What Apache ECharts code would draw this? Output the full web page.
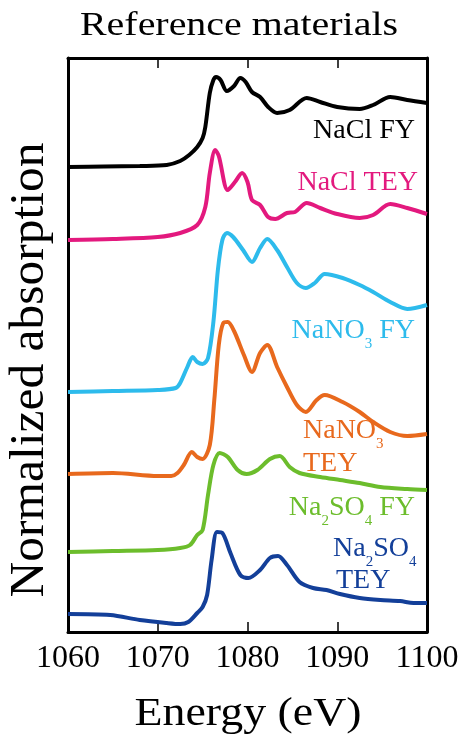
<!DOCTYPE html>
<html><head><meta charset="utf-8">
<script src="https://cdn.jsdelivr.net/npm/echarts@6/dist/echarts.min.js"></script>
<style>html,body{margin:0;padding:0;background:#fff}#c{width:463px;height:736px}</style>
</head><body><div id="c"></div>
<script>
// ---- data (energy in eV, normalized absorption with vertical offsets) ----
const xTicks = [1060, 1070, 1080, 1090, 1100];

const naclFY_E = [1060,1064,1068,1071,1072.5,1073.5,1074.4,1075.0,1075.3,1075.8,1076.2,1076.5,1077.0,1077.7,1078.5,1079.2,1079.8,1080.5,1081.4,1082.3,1083.3,1084.7,1086.6,1088.1,1090,1092.5,1094,1095.9,1097.8,1100];
const naclFY_A = [4.65,4.655,4.66,4.67,4.71,4.77,4.85,4.94,5.05,5.39,5.52,5.55,5.52,5.41,5.46,5.54,5.50,5.40,5.35,5.25,5.19,5.22,5.34,5.30,5.25,5.23,5.27,5.35,5.32,5.29];

const naclTEY_E = [1060,1065,1070,1072.5,1074.4,1075.3,1075.8,1076.4,1076.8,1077.8,1078.6,1079.4,1080.0,1080.5,1081.4,1082.3,1083.1,1084.4,1085.3,1086.6,1088.1,1090,1092.5,1094,1095.9,1097.8,1100];
const naclTEY_A = [3.92,3.93,3.95,3.99,4.07,4.25,4.59,4.82,4.76,4.42,4.50,4.59,4.50,4.32,4.27,4.15,4.13,4.19,4.20,4.29,4.24,4.18,4.14,4.17,4.28,4.24,4.18];

const nano3FY_E = [1060,1065,1070,1072,1072.5,1073.3,1073.9,1074.4,1075.0,1075.6,1076.2,1076.7,1077.2,1077.7,1078.4,1079.5,1080.5,1081.4,1082.2,1083.3,1084.4,1085.5,1086.5,1087.5,1088.6,1090.6,1092.5,1094,1095.9,1097.8,1100];
const nano3FY_A = [2.40,2.41,2.42,2.44,2.49,2.65,2.75,2.70,2.68,2.74,3.10,3.62,3.92,3.99,3.95,3.82,3.70,3.84,3.93,3.82,3.65,3.49,3.44,3.49,3.58,3.54,3.47,3.40,3.30,3.23,3.27];

const nano3TEY_E = [1060,1065,1070,1071.5,1072.2,1072.9,1073.8,1074.4,1075.0,1075.8,1076.3,1076.8,1077.3,1077.8,1078.5,1079.6,1080.5,1081.4,1082.2,1083.3,1084.4,1085.5,1086.5,1087.7,1088.6,1090.6,1092.5,1094,1095.9,1097.8,1100];
const nano3TEY_A = [1.58,1.59,1.56,1.56,1.59,1.67,1.80,1.75,1.73,1.87,2.32,2.87,3.09,3.10,3.01,2.77,2.60,2.79,2.87,2.65,2.45,2.27,2.20,2.32,2.37,2.30,2.20,2.10,2.00,1.96,1.98];

const na2so4FY_E = [1060,1065,1070,1072.5,1073.6,1074.4,1075.0,1075.6,1076.2,1076.9,1077.8,1078.9,1079.9,1081.1,1082.5,1083.6,1084.7,1085.8,1088.1,1090.3,1092.5,1094.8,1097.8,1100];
const na2so4FY_A = [0.80,0.81,0.82,0.84,0.87,0.97,1.02,1.37,1.67,1.79,1.75,1.62,1.58,1.62,1.73,1.76,1.65,1.59,1.55,1.52,1.49,1.45,1.43,1.42];

const na2so4TEY_E = [1060,1064.7,1068,1071,1072.5,1073.4,1074.4,1075.0,1075.5,1076.0,1076.6,1077.2,1078.1,1079.2,1080.1,1081.4,1082.5,1083.4,1084.4,1085.8,1087.3,1088.8,1090.3,1092.5,1094.8,1097,1098.5,1100];
const na2so4TEY_A = [0.18,0.17,0.12,0.09,0.08,0.10,0.19,0.25,0.37,0.72,1.00,0.99,0.79,0.57,0.54,0.62,0.74,0.76,0.67,0.50,0.44,0.42,0.38,0.34,0.32,0.31,0.29,0.29];

const seriesNames = ['NaCl FY','NaCl TEY','NaNO3 FY','NaNO3 TEY','Na2SO4 FY','Na2SO4 TEY'];
const seriesColors = ['#000000','#e3197e','#2dbbec','#e8691d','#6cbd2c','#133f99'];
const titleText = 'Reference materials';
const xName = 'Energy (eV)';
const yName = 'Normalized absorption';

// ---- build ----
const FONT = '"Liberation Serif","Times New Roman",serif';
const mctx = document.createElement('canvas').getContext('2d');
function tw(t, size){ mctx.font = size + 'px ' + FONT; return mctx.measureText(t).width; }
const MID = 0.3375; // middle-baseline offset (em)

function txt(t, x, baseline, size, color, extra){
  return Object.assign({
    type:'text', x:x, y:baseline - MID*size, silent:true,
    style:{text:t, font:size+'px '+FONT, fill:color, textAlign:'left', align:'left', textVerticalAlign:'middle', verticalAlign:'middle'}
  }, extra||{});
}
function label(pieces, x, baseline, align, color, size, subSize, drop){
  let W = 0;
  pieces.forEach(p => { W += tw(p[0], p[1] ? subSize : size); });
  let cx = align === 'right' ? x - W : x;
  const out = [];
  pieces.forEach(p => {
    const s = p[1] ? subSize : size;
    out.push(txt(p[0], cx, baseline + (p[1] ? drop : 0), s, color));
    cx += tw(p[0], s);
  });
  return out;
}
function scaledCentered(t, cx, baseline, size, targetW, color){
  const w = tw(t, size);
  const sc = targetW / w;
  return {type:'text', x:cx, y:baseline - MID*size, scaleX:sc, silent:true,
    style:{text:t, font:size+'px '+FONT, fill:color, textAlign:'center', align:'center', textVerticalAlign:'middle', verticalAlign:'middle'}};
}

const S = 28, SS = 15, DROP = 9;
const graphics = [
  scaledCentered(titleText, 239, 37, 33, 318, '#000'),
  scaledCentered(xName, 248, 728, 40, 227, '#000'),
  (function(){
    const size = 48, len = 455;
    const sc = len / tw(yName, size);
    return {type:'text', x:47 - MID*size, y:370, rotation:Math.PI/2, scaleX:sc, silent:true,
      style:{text:yName, font:size+'px '+FONT, fill:'#000', textAlign:'center', align:'center', textVerticalAlign:'middle', verticalAlign:'middle'}};
  })()
].concat(
  label([['NaCl FY',0]], 415, 140, 'right', seriesColors[0], S, SS, DROP),
  label([['NaCl TEY',0]], 418, 192, 'right', seriesColors[1], S, SS, DROP),
  label([['NaNO',0],['3',1],[' FY',0]], 415, 340, 'right', seriesColors[2], S, SS, DROP),
  label([['NaNO',0],['3',1]], 303, 440, 'left', seriesColors[3], S, SS, DROP),
  label([['TEY',0]], 303, 473, 'left', seriesColors[3], S, SS, DROP),
  label([['Na',0],['2',1],['SO',0],['4',1],[' FY',0]], 415, 517, 'right', seriesColors[4], S, SS, DROP),
  label([['Na',0],['2',1],['SO',0],['4',1]], 333, 558, 'left', seriesColors[5], S, SS, DROP),
  label([['TEY',0]], 336, 590, 'left', seriesColors[5], S, SS, DROP)
);

function zip(a, b){ return a.map((v, i) => [v, b[i]]); }
const allData = [
  zip(naclFY_E, naclFY_A), zip(naclTEY_E, naclTEY_A), zip(nano3FY_E, nano3FY_A),
  zip(nano3TEY_E, nano3TEY_A), zip(na2so4FY_E, na2so4FY_A), zip(na2so4TEY_E, na2so4TEY_A)
];

const axisLineStyle = {color:'#000', width:3};
const chart = echarts.init(document.getElementById('c'), null, {renderer:'canvas'});
chart.setOption({
  animation:false,
  backgroundColor:'#fff',
  grid:{left:68, right:36, top:58, bottom:104},
  xAxis:[
    {type:'value', position:'bottom', min:xTicks[0], max:xTicks[xTicks.length-1], interval:10,
     axisLine:{show:true, onZero:false, lineStyle:axisLineStyle},
     axisTick:{show:true, inside:true, length:10, lineStyle:{color:'#000', width:1.5}},
     axisLabel:{show:true, color:'#000', fontFamily:FONT, fontSize:32, margin:11, formatter:function(v){ return String(v); }},
     splitLine:{show:false}},
    {type:'value', position:'top', min:xTicks[0], max:xTicks[xTicks.length-1], interval:10,
     axisLine:{show:true, onZero:false, lineStyle:axisLineStyle},
     axisTick:{show:true, inside:true, length:10, lineStyle:{color:'#000', width:1.5}},
     axisLabel:{show:false}, splitLine:{show:false}}
  ],
  yAxis:[
    {type:'value', position:'left', min:0, max:5.74,
     axisLine:{show:true, onZero:false, lineStyle:axisLineStyle},
     axisTick:{show:false}, axisLabel:{show:false}, splitLine:{show:false}},
    {type:'value', position:'right', min:0, max:5.74,
     axisLine:{show:true, onZero:false, lineStyle:axisLineStyle},
     axisTick:{show:false}, axisLabel:{show:false}, splitLine:{show:false}}
  ],
  series: allData.map((d, i) => ({
    name:seriesNames[i], type:'line', data:d, showSymbol:false, smooth:0.3,
    xAxisIndex:0, yAxisIndex:0, clip:true,
    lineStyle:{color:seriesColors[i], width:4}, itemStyle:{color:seriesColors[i]}
  })),
  graphic:graphics
});
</script></body></html>
